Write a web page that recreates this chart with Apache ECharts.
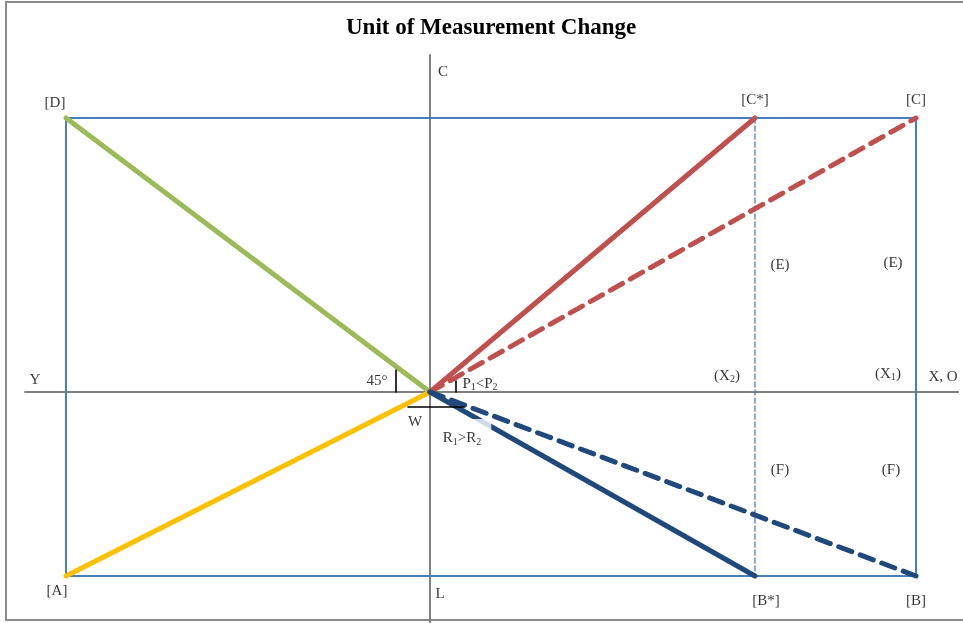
<!DOCTYPE html>
<html>
<head>
<meta charset="utf-8">
<script src="https://cdn.jsdelivr.net/npm/echarts@6/dist/echarts.min.js"></script>
<style>
  html, body { margin: 0; padding: 0; background: #fff; }
  #chart { width: 963px; height: 623px; }
</style>
</head>
<body>
<div id="chart"></div>
<script>
// diagram points, origin at the axis crossing
var origin = [0, 0];
var pD = [-364, 274];
var pA = [-364, -184];
var pCstar = [325, 274];
var pC = [486, 274];
var pBstar = [325, -184];
var pB = [486, -184];

// gray axes
var axisH = [[-405, 0], [528, 0]];
var axisV = [[0, 337], [0, -231]];

// small black markers
var mark45 = [[-34, 0], [-34, 22]];
var markP = [[26, 0], [26, 11]];
var markW = [[-22, -15], [34, -15]];

// text labels
var labelNames = ["[D]", "[C*]", "[C]", "C", "(E)", "(E)", "Y", "45°", "P{s|1}<P{s|2}",
  "(X{s|2})", "(X{s|1})", "X, O", "W", "(F)", "(F)", "[A]", "L", "[B*]", "[B]"];
var labelPos = [[-375, 289], [325, 292], [486, 292], [13, 320], [350, 127], [463, 129],
  [-395, 12], [-53, 11], [50, 8], [297, 16], [458, 18], [513, 15], [-15, -30],
  [350, -78], [461, -78], [-373, -199], [10, -202], [336, -209], [486, -209]];
var boxName = "R{s|1}>R{s|2}";
var boxPos = [32, -44];

var chart = echarts.init(document.getElementById("chart"));

function seg(pts, color, width, type) {
  return {
    type: "line",
    data: pts,
    symbol: "none",
    silent: true,
    animation: false,
    lineStyle: { color: color, width: width, type: type || "solid", cap: "round" }
  };
}

var labelData = [];
for (var i = 0; i < labelNames.length; i++) {
  labelData.push({ name: labelNames[i], value: labelPos[i] });
}

var subStyle = { fontFamily: "Liberation Serif", fontSize: 10, lineHeight: 17, verticalAlign: "bottom", padding: [7, 0, 0, 0], color: "#000" };

var option = {
  title: {
    text: "Unit of Measurement Change",
    left: 341,
    top: 12,
    textStyle: { fontFamily: "Liberation Serif", fontSize: 23, fontWeight: "bold", color: "#000" }
  },
  graphic: [{
    type: "rect",
    shape: { x: 6, y: 2, width: 980, height: 618 },
    style: { fill: null, stroke: "#8c8c8c", lineWidth: 2 },
    silent: true
  }],
  grid: { left: 0, right: 0, top: 0, bottom: 0 },
  xAxis: { type: "value", min: -430, max: 533, show: false },
  yAxis: { type: "value", min: -231, max: 392, show: false },
  series: [
    seg(axisH, "#808080", 2),
    seg(axisV, "#808080", 2),
    seg([pD, pC, pB, pA, pD], "#4a7ebb", 2),
    seg([pCstar, pBstar], "#4a7ebb", 1.3, [5, 3]),
    seg([pD, origin], "#9bbb59", 5),
    seg([pA, origin], "#ffc000", 5),
    seg([origin, pC], "#c0504d", 5, [14, 9]),
    seg([origin, pCstar], "#c0504d", 5),
    seg([origin, pB], "#1f497d", 5, [14, 9]),
    seg([origin, pBstar], "#1f497d", 5),
    seg(mark45, "#000", 1.6),
    seg(markP, "#000", 1.6),
    seg(markW, "#000", 1.6),
    {
      type: "scatter",
      data: labelData,
      symbolSize: 1,
      itemStyle: { color: "transparent" },
      silent: true,
      animation: false,
      label: {
        show: true,
        position: "inside",
        formatter: function (p) { return p.name; },
        fontFamily: "Liberation Serif",
        fontSize: 15,
        color: "#000",
        lineHeight: 17,
        rich: { s: subStyle }
      }
    },
    {
      // R1>R2 sits on a white box that hides part of the blue lines
      type: "scatter",
      data: [{ name: boxName, value: boxPos }],
      symbolSize: 1,
      z: 5,
      itemStyle: { color: "transparent" },
      silent: true,
      animation: false,
      label: {
        show: true,
        position: "inside",
        formatter: function (p) { return p.name; },
        fontFamily: "Liberation Serif",
        fontSize: 15,
        color: "#000",
        lineHeight: 17,
        backgroundColor: "#fff",
        padding: [11, 10, 6, 10],
        rich: { s: subStyle }
      }
    }
  ]
};
chart.setOption(option);
</script>
</body>
</html>
